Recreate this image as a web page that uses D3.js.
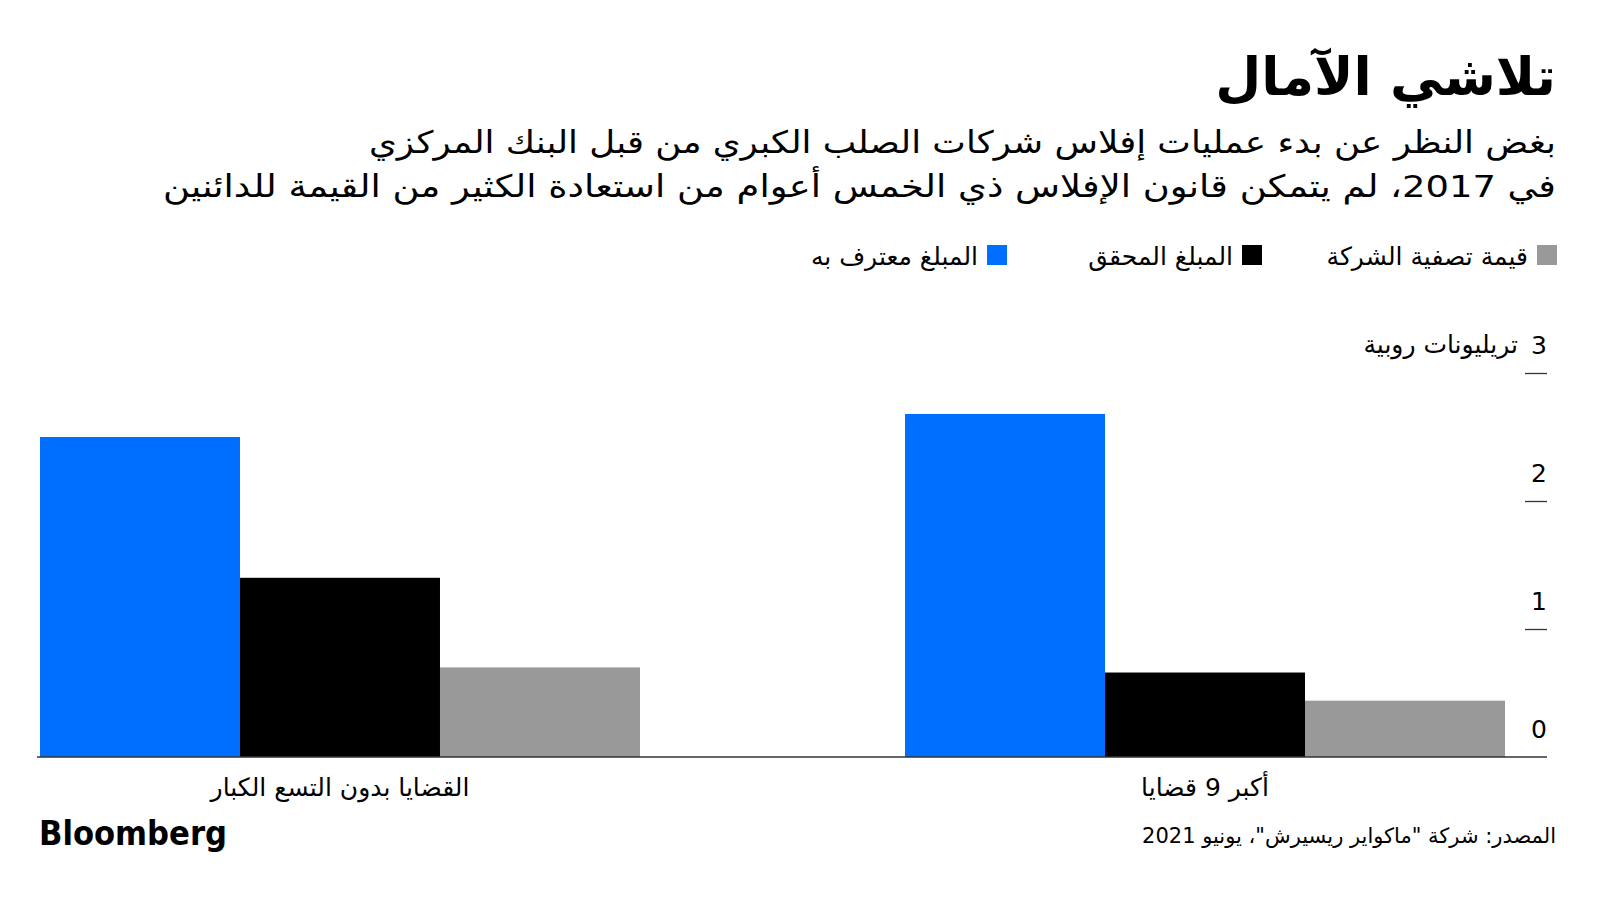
<!DOCTYPE html>
<html lang="ar">
<head>
<meta charset="utf-8">
<script src="https://cdn.jsdelivr.net/npm/d3@7"></script>
<style>
  html, body { margin: 0; padding: 0; background: #fff; }
  svg text { font-family: "DejaVu Sans", "Noto Sans", sans-serif; }
  .rtl { direction: rtl; unicode-bidi: embed; }
</style>
</head>
<body>
<svg id="chart"></svg>
<script>
// categories (right to left as in the picture)
const categories = ["أكبر 9 قضايا", "القضايا بدون التسع الكبار"];
// series, in legend order (right to left)
const seriesNames = ["قيمة تصفية الشركة", "المبلغ المحقق", "المبلغ معترف به"];
const seriesColors = ["#999999", "#000000", "#006eff"];
// values in trillion rupees, one per category
const liquidationValue = [0.44, 0.70];
const realisedAmount = [0.66, 1.40];
const admittedClaims = [2.68, 2.50];
const yTicks = [0, 1, 2, 3];

const title = "تلاشي الآمال";
const subtitle = [
  "بغض النظر عن بدء عمليات إفلاس شركات الصلب الكبري من قبل البنك المركزي",
  "في 2017، لم يتمكن قانون الإفلاس ذي الخمس أعوام من استعادة الكثير من القيمة للدائنين"
];
const unitLabel = "تريليونات روبية";
const source = "المصدر: شركة \"ماكواير ريسيرش\"، يونيو 2021";

const seriesValues = [liquidationValue, realisedAmount, admittedClaims];
const rows = categories.map((c, i) => ({
  cat: c,
  vals: seriesNames.map((s, j) => ({ key: s, value: seriesValues[j][i], color: seriesColors[j] }))
}));

const W = 1600, H = 900;
const svg = d3.select("#chart").attr("width", W).attr("height", H);

const x0 = d3.scaleBand().domain(categories).range([1505, 40]).paddingInner(0.3064).paddingOuter(0);
const x1 = d3.scaleBand().domain(seriesNames).range([x0.bandwidth(), 0]);
const y = d3.scaleLinear().domain([0, 3]).range([757, 373]);

// title + subtitle
svg.append("text").attr("class", "rtl")
  .attr("x", 1556).attr("y", 95)
  .attr("text-anchor", "start")
  .attr("font-size", 53).attr("font-weight", "bold")
  .text(title);

const subWidths = [1187, 1393];
svg.selectAll(".sub").data(subtitle).enter().append("text")
  .attr("class", "sub rtl")
  .attr("x", 1556).attr("y", (d, i) => 153 + i * 44)
  .attr("text-anchor", "start")
  .attr("font-size", 31)
  .attr("textLength", (d, i) => subWidths[i]).attr("lengthAdjust", "spacingAndGlyphs")
  .text(d => d);

// legend
const legendX = [1557, 1262, 1007];
const leg = svg.selectAll(".leg").data(seriesNames).enter().append("g")
  .attr("class", "leg")
  .attr("transform", (d, i) => `translate(${legendX[i]},0)`);
leg.append("rect").attr("x", -20).attr("y", 245).attr("width", 20).attr("height", 20)
  .attr("fill", (d, i) => seriesColors[i]);
leg.append("text").attr("class", "rtl")
  .attr("x", -29).attr("y", 265)
  .attr("text-anchor", "start").attr("font-size", 25)
  .text(d => d);

// y axis
const yAxis = svg.append("g").attr("transform", "translate(1547,0)")
  .call(d3.axisLeft(y).tickValues(yTicks).tickSize(22).tickFormat(d3.format("d")));
yAxis.select(".domain").remove();
yAxis.selectAll(".tick line").attr("stroke", "#333").attr("stroke-width", 1.3)
  .attr("opacity", d => d === 0 ? 0 : 1);
yAxis.selectAll(".tick text")
  .attr("x", 0).attr("dy", -20)
  .attr("font-size", 25).attr("fill", "#000")
  .attr("font-family", "Liberation Sans, Arial, sans-serif");
svg.append("text").attr("class", "rtl")
  .attr("x", 1518).attr("y", y(3) - 20)
  .attr("text-anchor", "start").attr("font-size", 25)
  .text(unitLabel);

// bars
const groups = svg.selectAll(".grp").data(rows).enter().append("g")
  .attr("class", "grp")
  .attr("transform", d => `translate(${x0(d.cat)},0)`);
groups.selectAll("rect").data(d => d.vals).enter().append("rect")
  .attr("x", d => x1(d.key))
  .attr("width", x1.bandwidth())
  .attr("y", d => y(d.value))
  .attr("height", d => y(0) - y(d.value))
  .attr("fill", d => d.color);

// baseline
svg.append("line")
  .attr("x1", 37).attr("x2", 1547)
  .attr("y1", y(0)).attr("y2", y(0))
  .attr("stroke", "#333").attr("stroke-width", 1.5);

// x labels
const xAxis = svg.append("g").attr("transform", `translate(0,${y(0)})`)
  .call(d3.axisBottom(x0).tickSize(0).tickPadding(0));
xAxis.select(".domain").remove();
xAxis.selectAll(".tick text")
  .attr("class", "rtl")
  .attr("dy", 39)
  .attr("font-size", 25).attr("fill", "#000")
  .attr("font-family", "DejaVu Sans, sans-serif");

// footer
svg.append("text")
  .attr("x", 39).attr("y", 845)
  .attr("font-family", "Liberation Sans, Arial, sans-serif")
  .attr("font-size", 34).attr("font-weight", "bold")
  .attr("textLength", 188).attr("lengthAdjust", "spacingAndGlyphs")
  .text("Bloomberg");
svg.append("text").attr("class", "rtl")
  .attr("x", 1556).attr("y", 843)
  .attr("text-anchor", "start").attr("font-size", 21)
  .text(source);
</script>
</body>
</html>
